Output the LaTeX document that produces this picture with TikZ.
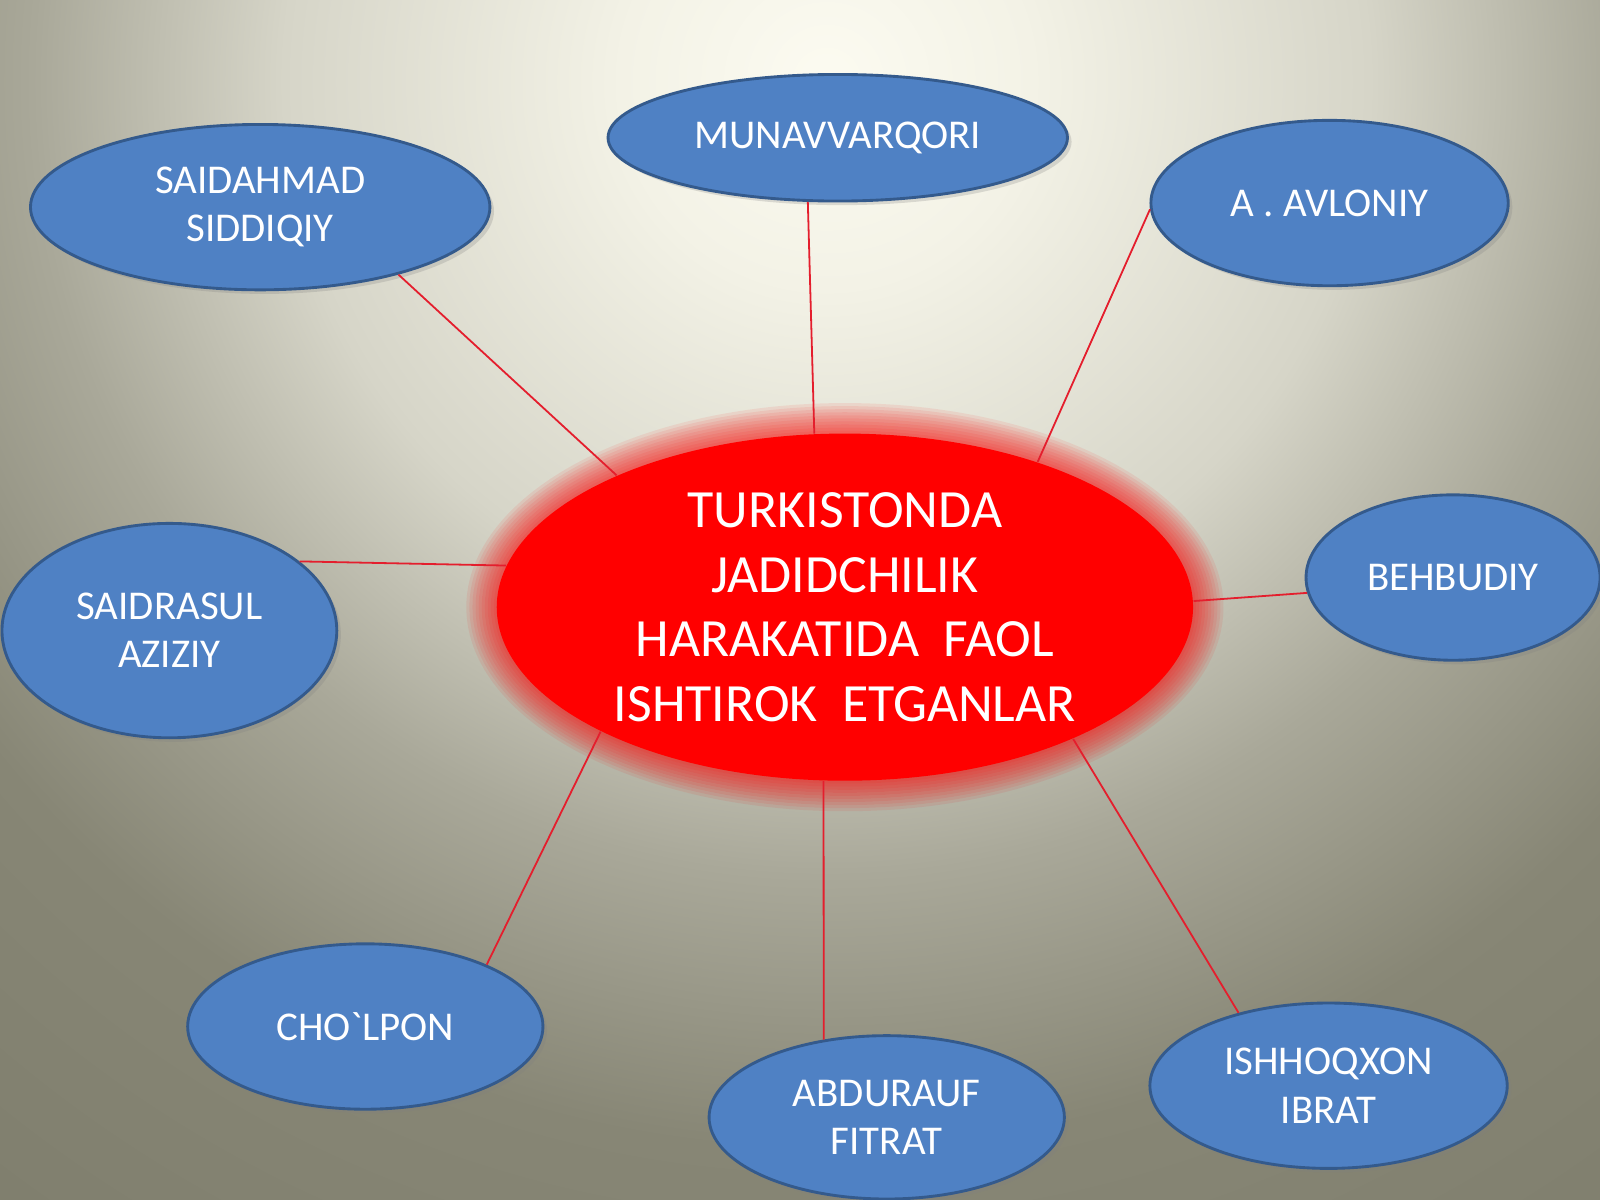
\documentclass[tikz,border=0pt]{standalone}
\usepackage{fontspec}
\newfontfamily\labelfont{Carlito}
\usetikzlibrary{shapes.geometric,shadows}

\definecolor{bgA}{RGB}{252,251,241}
\definecolor{bgB}{RGB}{243,242,230}
\definecolor{bgC}{RGB}{214,213,200}
\definecolor{bgD}{RGB}{169,168,153}
\definecolor{bgE}{RGB}{135,134,117}
\definecolor{bgF}{RGB}{127,126,109}
\definecolor{nodeblue}{RGB}{79,129,196}
\definecolor{nodeedge}{RGB}{52,90,140}
\definecolor{linkred}{RGB}{228,30,45}

\pgfdeclareradialshading{bgglow}{\pgfpoint{0bp}{0bp}}{%
  color(0bp)=(bgA); color(3.6bp)=(bgB); color(9.5bp)=(bgC);
  color(13.9bp)=(bgD); color(18.7bp)=(bgE); color(25bp)=(bgF);
  color(50bp)=(bgF)}

\tikzset{
  hub/.style={ellipse, fill=red, text=white, inner sep=0pt, align=center,
    minimum width=6.82cm, minimum height=3.4cm,
    font=\labelfont\fontsize{15}{18}\selectfont},
  person/.style={ellipse, draw=nodeedge, line width=0.8pt, fill=nodeblue,
    text=white, inner sep=0pt, align=center,
    drop shadow={opacity=0.25, shadow xshift=0.04cm, shadow yshift=-0.04cm},
    font=\labelfont\fontsize{11.4}{13.4}\selectfont},
  link/.style={draw=linkred, line width=0.5pt}
}

\begin{document}
\begin{tikzpicture}[x=0.01cm, y=-0.01cm]
  \useasboundingbox (0,0) rectangle (1568,1176);
  % background
  \begin{scope}
    \clip (0,0) rectangle (1568,1176);
    \shade[shading=bgglow] (810,80) circle (1400);
  \end{scope}
  % glow round the middle
  \foreach \g in {1,...,10}
    \fill[red, opacity=0.08] (828,595) ellipse ({341+3*\g} and {170+3*\g});
  \node[hub] (hub) at (828,595)
    {TURKISTONDA\\JADIDCHILIK\\HARAKATIDA\ \ FAOL\\ISHTIROK\ \ ETGANLAR};
  % the people
  \node[person, minimum width=4.5cm, minimum height=1.62cm] (saidahmad) at (255,203) {SAIDAHMAD\\SIDDIQIY};
  \node[person, minimum width=4.5cm, minimum height=1.24cm] (munavvar) at (821,135) {MUNAVVARQORI};
  \node[person, minimum width=3.5cm, minimum height=1.62cm] (avloniy) at (1303,199) {A . AVLONIY};
  \node[person, minimum width=3.28cm, minimum height=2.1cm] (saidrasul) at (166,618) {SAIDRASUL\\AZIZIY};
  \node[person, minimum width=2.88cm, minimum height=1.62cm] (behbudiy) at (1424,566) {BEHBUDIY};
  \node[person, minimum width=3.48cm, minimum height=1.62cm] (cholpon) at (358,1006) {CHO`LPON};
  \node[person, minimum width=3.48cm, minimum height=1.6cm] (fitrat) at (869,1095) {ABDURAUF\\FITRAT};
  \node[person, minimum width=3.5cm, minimum height=1.62cm] (ibrat) at (1302,1064) {ISHHOQXON\\IBRAT};
  % links
  \draw[link] (hub.150) -- (saidahmad.-26);
  \draw[link] (hub.100) -- (munavvar.-115);
  \draw[link] (hub.37) -- (avloniy.-178);
  \draw[link] (hub.173) -- (saidrasul.28);
  \draw[link] (hub.1) -- (behbudiy.-174);
  \draw[link] (hub.-153) -- (cholpon.27);
  \draw[link] (hub.-97) -- (fitrat.129);
  \draw[link] (hub.-30) -- (ibrat.141);
\end{tikzpicture}
\end{document}
